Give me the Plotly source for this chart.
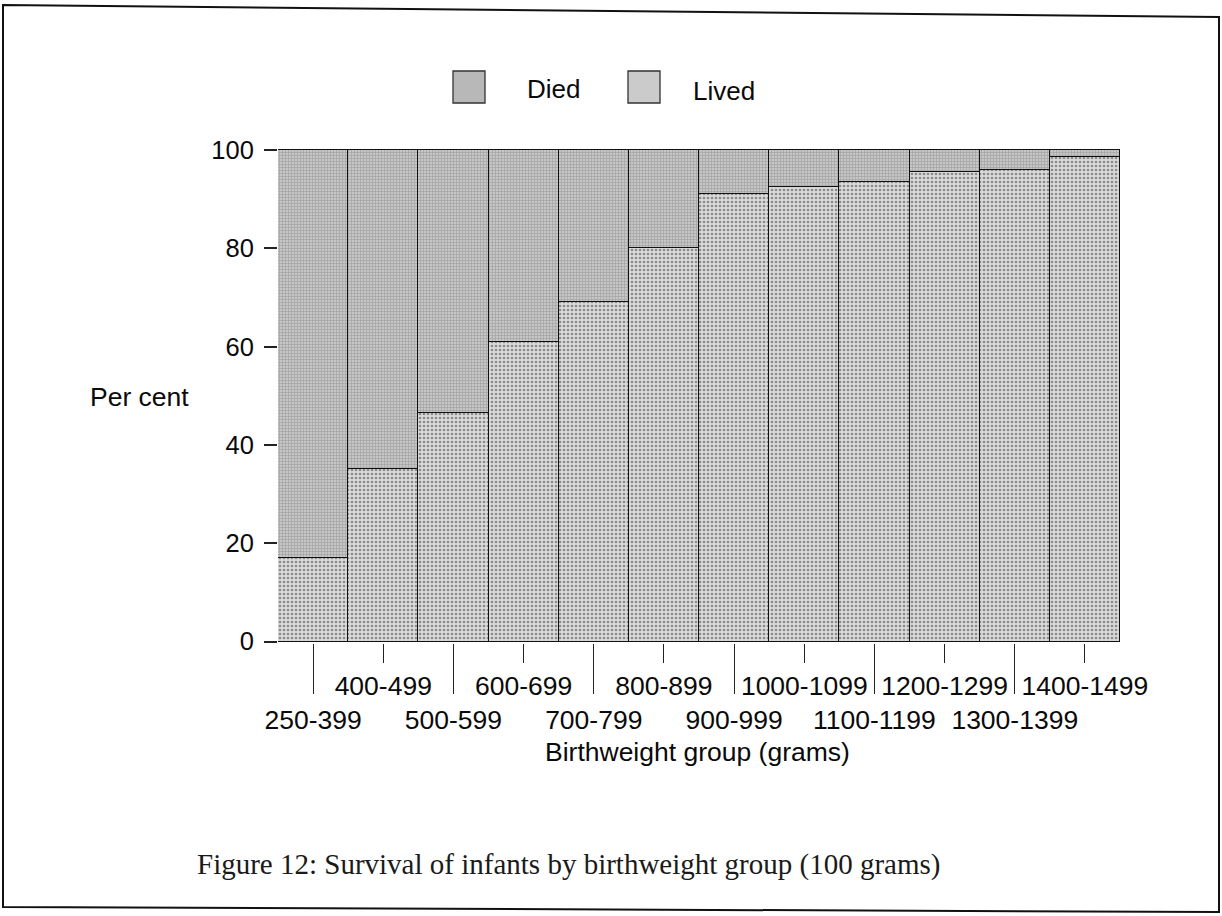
import plotly.graph_objects as go

categories = ["250-399", "400-499", "500-599", "600-699", "700-799", "800-899",
              "900-999", "1000-1099", "1100-1199", "1200-1299", "1300-1399", "1400-1499"]
lived = [17, 35, 46.5, 61, 69, 80, 91, 92.5, 93.5, 95.5, 96, 98.5]
died = [round(100 - v, 1) for v in lived]
y_ticks = [0, 20, 40, 60, 80, 100]

W, H = 1222, 916
L, R, T, B = 278, 102, 148, 273
PW, PH = W - L - R, H - T - B

def px(x):
    return (x - L) / PW

def py(y):
    return (H - B - y) / PH

FONT = "Liberation Sans, Arial, sans-serif"
INK = "#0a0a0a"

fig = go.Figure()
fig.add_trace(go.Bar(
    x=categories, y=lived, name="Lived",
    marker=dict(color="#d2d2d2", line=dict(color="#111111", width=1.3),
                pattern=dict(shape=".", bgcolor="#dadada", fgcolor="#3c3c3c",
                             size=4, solidity=0.36)),
    showlegend=False,
))
fig.add_trace(go.Bar(
    x=categories, y=died, name="Died",
    marker=dict(color="#bdbdbd", line=dict(color="#111111", width=1.3),
                pattern=dict(shape="+", bgcolor="#c6c6c6", fgcolor="#7e7e7e",
                             size=3, solidity=0.4)),
    showlegend=False,
))
# invisible helper trace so the second (staggered-label) axis shares the categories
fig.add_trace(go.Scatter(
    x=categories, y=lived, xaxis="x2", mode="markers",
    marker=dict(opacity=0), hoverinfo="skip", showlegend=False,
))

even = categories[0::2]
odd = categories[1::2]

fig.update_layout(
    width=W, height=H,
    margin=dict(l=L, r=R, t=T, b=B, pad=0),
    paper_bgcolor="white", plot_bgcolor="white",
    barmode="stack", bargap=0,
    font=dict(family=FONT, size=25, color=INK),
    xaxis=dict(type="category", categoryarray=categories, range=[-0.5, 11.5],
               tickmode="array", tickvals=even, ticktext=even,
               ticks="outside", ticklen=50, tickwidth=1.3, tickcolor="#222222",
               ticklabelstandoff=3,
               showgrid=False, showline=False, zeroline=False,
               tickfont=dict(family=FONT, size=26.5, color=INK), fixedrange=True),
    xaxis2=dict(type="category", categoryarray=categories, range=[-0.5, 11.5],
                overlaying="x", anchor="y", side="bottom",
                tickmode="array", tickvals=odd, ticktext=odd,
                ticks="outside", ticklen=19, tickwidth=1.3, tickcolor="#222222",
                showgrid=False, showline=False, zeroline=False,
                tickfont=dict(family=FONT, size=26.5, color=INK), fixedrange=True),
    yaxis=dict(range=[-0.3, 100.4], tickmode="array", tickvals=y_ticks,
               ticks="outside", ticklen=13, tickwidth=1.5, tickcolor="#222222",
               ticklabelstandoff=5,
               showgrid=False, showline=False, zeroline=False,
               tickfont=dict(family=FONT, size=25.5, color=INK), fixedrange=True),
)

# legend swatches and labels
fig.add_shape(type="rect", xref="paper", yref="paper",
              x0=px(453), x1=px(485), y0=py(103), y1=py(71),
              fillcolor="#b8b8b8", line=dict(color="#333333", width=1.3))
fig.add_shape(type="rect", xref="paper", yref="paper",
              x0=px(628), x1=px(660), y0=py(103), y1=py(71),
              fillcolor="#cbcbcb", line=dict(color="#333333", width=1.3))
fig.add_annotation(text="Died", xref="paper", yref="paper", x=px(525), y=py(89),
                   xanchor="left", yanchor="middle", showarrow=False,
                   font=dict(family=FONT, size=26, color=INK))
fig.add_annotation(text="Lived", xref="paper", yref="paper", x=px(691), y=py(91),
                   xanchor="left", yanchor="middle", showarrow=False,
                   font=dict(family=FONT, size=26, color=INK))

# axis titles
fig.add_annotation(text="Per cent", xref="paper", yref="paper", x=px(139), y=py(397),
                   xanchor="center", yanchor="middle", showarrow=False,
                   font=dict(family=FONT, size=26.5, color=INK))
fig.add_annotation(text="Birthweight group (grams)", xref="paper", yref="paper",
                   x=px(697), y=py(752), xanchor="center", yanchor="middle",
                   showarrow=False, font=dict(family=FONT, size=26.5, color=INK))

# caption
fig.add_annotation(text="Figure 12: Survival of infants by birthweight group (100 grams)",
                   xref="paper", yref="paper", x=px(568), y=py(864),
                   xanchor="center", yanchor="middle", showarrow=False,
                   font=dict(family="Liberation Serif, Times New Roman, serif", size=29,
                             color="#1a1a1a"))

# page frame
fig.add_shape(type="path", xref="paper", yref="paper",
              path="M {},{} L {},{} L {},{} L {},{} Z".format(
                  px(3), py(5), px(1219), py(17), px(1219), py(912), px(3), py(907)),
              line=dict(color="#111111", width=2), fillcolor="rgba(0,0,0,0)")

fig.write_html("out.html", config={"displayModeBar": False},
               post_script="document.body.style.margin='0';document.body.style.overflow='hidden';")
